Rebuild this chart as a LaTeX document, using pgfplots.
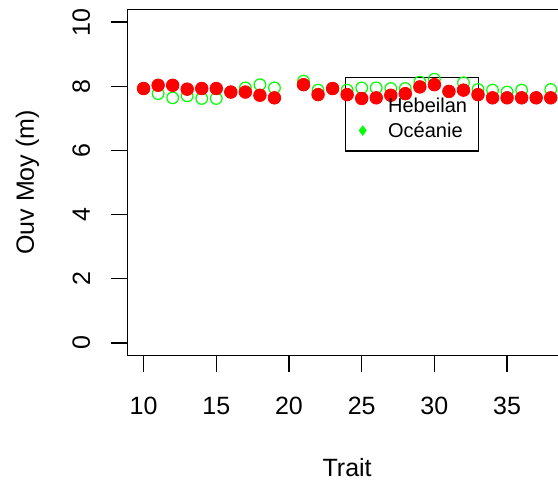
\documentclass[border=0pt]{standalone}
\usepackage{pgfplots}
\pgfplotsset{compat=1.18}
\usepackage{fontspec}
\setmainfont{Liberation Sans}
\definecolor{rred}{RGB}{255,0,0}
\definecolor{rgreen}{RGB}{0,255,0}
\pgfplotstableread{
x y
10 7.93
11 8.03
12 8.03
13 7.91
14 7.93
15 7.93
16 7.82
17 7.82
18 7.72
19 7.64
21 8.05
22 7.74
23 7.93
24 7.74
25 7.62
26 7.64
27 7.72
28 7.77
29 7.98
30 8.05
31 7.84
32 7.88
33 7.74
34 7.64
35 7.64
36 7.64
37 7.64
38 7.64
}\hebeilan
\pgfplotstableread{
x y
10 7.93
11 7.77
12 7.64
13 7.70
14 7.62
15 7.62
16 7.82
17 7.95
18 8.05
19 7.95
21 8.16
22 7.88
23 7.93
24 7.88
25 7.95
26 7.95
27 7.93
28 7.93
29 8.13
30 8.22
31 7.84
32 8.11
33 7.90
34 7.88
35 7.82
36 7.88
37 7.64
38 7.90
}\oceanie
\begin{document}
\begin{tikzpicture}
\useasboundingbox (0,0) rectangle (279pt,241pt);
\clip (0,0) rectangle (279pt,241pt);
\begin{axis}[
  at={(63.65pt,63.15pt)}, anchor=south west,
  scale only axis, width=219.85pt, height=173.2pt,
  xmin=8.88, xmax=39.12, ymin=-0.4, ymax=10.4,
  axis x line*=bottom, axis y line*=left,
  axis line style={line width=0.75pt, black},
  xtick={10,15,...,35}, ytick={0,2,...,10},
  tick align=outside, major tick length=8pt,
  tick style={line width=0.75pt, black},
  /pgf/number format/assume math mode=true,
  ticklabel style={font=\fontsize{12.5}{14}\selectfont},
  xticklabel style={anchor=center, yshift=-17pt},
  yticklabel style={rotate=90, anchor=center, yshift=15pt},
  xlabel={Trait}, ylabel={Ouv Moy (m)},
  label style={font=\fontsize{12.5}{14}\selectfont},
  xlabel style={at={(axis description cs:0.5,-0.3242)}, anchor=center},
  ylabel style={at={(axis description cs:-0.2274,0.5)}, anchor=center, rotate=0},
  legend style={draw=none, fill=none, at={(axis cs:23.87,7.626)}, anchor=north west,
    inner sep=0pt, row sep=5.2pt, column sep=11pt, font=\fontsize{10}{12}\selectfont,
    nodes={inner sep=0pt, text height=7.16pt, text depth=0pt}},
  legend cell align=left,
]
\addplot[only marks, mark=o, mark size=2.9pt, mark options={line width=0.6pt, draw=rgreen}, forget plot] table[x=x,y=y] {\oceanie};
\addplot[only marks, mark=*, mark size=3.15pt, mark options={draw=rred, fill=rred}, forget plot] table[x=x,y=y] {\hebeilan};
\draw[line width=0.75pt] (rel axis cs:0,1) -- (rel axis cs:1,1);
\draw[line width=0.6pt, black] (axis cs:23.872,8.270) rectangle (axis cs:33.04,5.981);
\addlegendimage{empty legend}
\addlegendentry{Hebeilan}
\addlegendimage{only marks, mark=diamond*, mark size=2.3pt, draw=rgreen, fill=rgreen}
\addlegendentry{Oc\'eanie}
\end{axis}
\end{tikzpicture}
\end{document}
